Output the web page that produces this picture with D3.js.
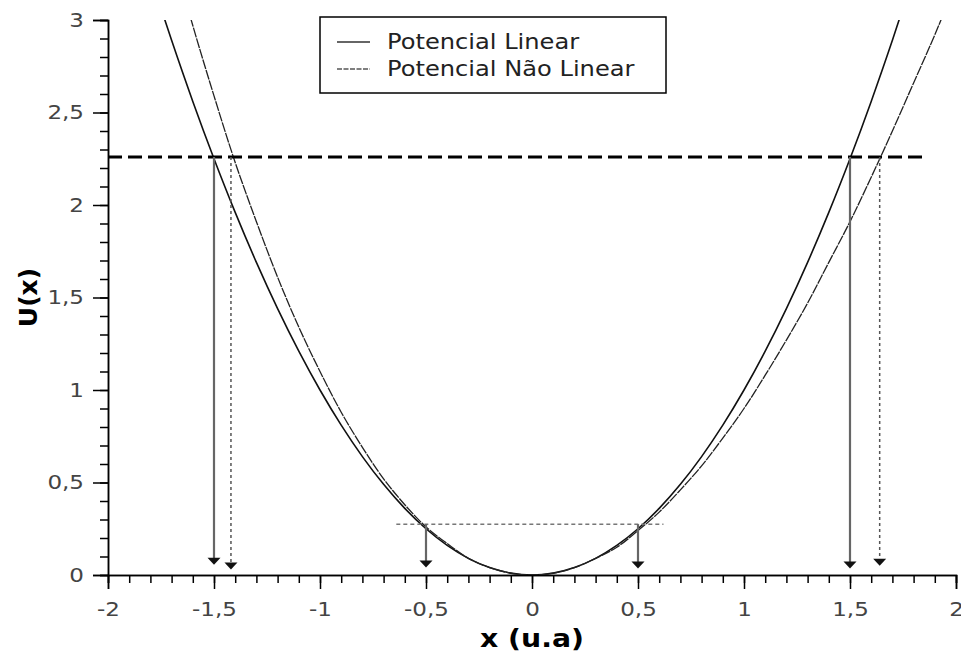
<!DOCTYPE html>
<html>
<head>
<meta charset="utf-8">
<script src="https://cdn.jsdelivr.net/npm/d3@7"></script>
<style>
  body { margin: 0; background: #fff; }
  text { font-family: "DejaVu Sans", sans-serif; }
</style>
</head>
<body>
<script>
// potencial linear e nao linear
var xs = [-1.8,-1.7,-1.6,-1.5,-1.4,-1.3,-1.2,-1.1,-1.0,-0.9,-0.8,-0.7,-0.6,-0.5,-0.4,-0.3,-0.2,-0.1,0,
          0.1,0.2,0.3,0.4,0.5,0.6,0.7,0.8,0.9,1.0,1.1,1.2,1.3,1.4,1.5,1.6,1.7,1.8,1.9,2.0];
var uLinear = [3.24,2.89,2.56,2.25,1.96,1.69,1.44,1.21,1.0,0.81,0.64,0.49,0.36,0.25,0.16,0.09,0.04,0.01,0,
               0.01,0.04,0.09,0.16,0.25,0.36,0.49,0.64,0.81,1.0,1.21,1.44,1.69,1.96,2.25,2.56,2.89,3.24,3.61,4.0];
var uNaoLinear = [3.82,3.38,2.97,2.59,2.23,1.91,1.61,1.34,1.1,0.88,0.69,0.52,0.38,0.26,0.17,0.09,0.04,0.01,0,
                  0.01,0.04,0.09,0.15,0.24,0.34,0.46,0.59,0.74,0.9,1.08,1.27,1.47,1.69,1.91,2.15,2.40,2.66,2.92,3.2];

// niveis de energia
var levelE = [2.26, 0.275];
var levelFrom = [-2, -0.64];
var levelTo = [1.85, 0.62];

// setas: posicao, energia de partida, ponta
var arrowX = [-1.5, -1.42, -0.5, 0.5, 1.5, 1.64];
var arrowFrom = [2.26, 2.26, 0.275, 0.275, 2.26, 2.26];
var arrowTip = [0.055, 0.03, 0.04, 0.035, 0.035, 0.05];
var arrowDotted = [false, true, false, false, false, true];

var xTicks = [-2,-1.5,-1,-0.5,0,0.5,1,1.5,2];
var yTicks = [0,0.5,1,1.5,2,2.5,3];
var legendNames = ["Potencial Linear", "Potencial Não Linear"];

var width = 961, height = 652;
var margin = {top: 20, right: 5, bottom: 77, left: 108};
var stretch = 1.15; // o texto original e mais largo

var svg = d3.select("body").append("svg")
    .attr("width", width)
    .attr("height", height);

var x = d3.scaleLinear().domain([-2, 2]).range([margin.left, width - margin.right]);
var y = d3.scaleLinear().domain([0, 3]).range([height - margin.bottom, margin.top]);

function fmt(d) { return String(d).replace(".", ","); }

svg.append("clipPath").attr("id", "plot")
  .append("rect")
    .attr("x", margin.left).attr("y", margin.top)
    .attr("width", x(2) - margin.left).attr("height", y(0) - margin.top);

// eixos - ticks menores
svg.append("g")
    .attr("transform", "translate(0," + y(0) + ")")
    .call(d3.axisBottom(x).tickValues(d3.range(-20, 21).map(function(d) { return d / 10; }))
      .tickSize(8).tickFormat(""));
svg.append("g")
    .attr("transform", "translate(" + x(-2) + ",0)")
    .call(d3.axisLeft(y).tickValues(d3.range(0, 31).map(function(d) { return d / 10; }))
      .tickSize(8).tickFormat(""));

var xAxis = svg.append("g")
    .attr("transform", "translate(0," + y(0) + ")")
    .call(d3.axisBottom(x).tickValues(xTicks).tickSize(14).tickPadding(13).tickFormat(fmt));
var yAxis = svg.append("g")
    .attr("transform", "translate(" + x(-2) + ",0)")
    .call(d3.axisLeft(y).tickValues(yTicks).tickSize(15).tickPadding(9).tickFormat(fmt));

svg.selectAll(".domain").attr("stroke", "#000").attr("stroke-width", 1.5);
svg.selectAll(".tick line").attr("stroke", "#000").attr("stroke-width", 1.5);
svg.selectAll(".tick text")
    .attr("font-family", "DejaVu Sans")
    .attr("font-size", 20)
    .attr("fill", "#444")
    .attr("transform", "scale(" + stretch + ",1)");
yAxis.selectAll(".tick text").attr("x", -24 / stretch);

// curvas
var line = d3.line()
    .x(function(d) { return x(d[0]); })
    .y(function(d) { return y(d[1]); })
    .curve(d3.curveCatmullRom);

var curves = svg.append("g").attr("clip-path", "url(#plot)");
curves.append("path")
    .attr("d", line(xs.map(function(v, i) { return [v, uLinear[i]]; })))
    .attr("fill", "none").attr("stroke", "#111").attr("stroke-width", 1.6);
curves.append("path")
    .attr("d", line(xs.map(function(v, i) { return [v, uNaoLinear[i]]; })))
    .attr("fill", "none").attr("stroke", "#222").attr("stroke-width", 1.3)
    .attr("stroke-dasharray", "10,1");

// niveis de energia
svg.append("line")
    .attr("x1", x(levelFrom[0])).attr("x2", x(levelTo[0]))
    .attr("y1", y(levelE[0])).attr("y2", y(levelE[0]))
    .attr("stroke", "#000").attr("stroke-width", 3).attr("stroke-dasharray", "14,6");
svg.append("line")
    .attr("x1", x(levelFrom[1])).attr("x2", x(levelTo[1]))
    .attr("y1", y(levelE[1])).attr("y2", y(levelE[1]))
    .attr("stroke", "#777").attr("stroke-width", 1.5).attr("stroke-dasharray", "4,3");

// setas
arrowX.forEach(function(ax, i) {
  var tipY = y(arrowTip[i]);
  svg.append("line")
      .attr("x1", x(ax)).attr("x2", x(ax))
      .attr("y1", y(arrowFrom[i])).attr("y2", tipY - 5)
      .attr("stroke", arrowDotted[i] ? "#555" : "#666")
      .attr("stroke-width", arrowDotted[i] ? 1.5 : 2.2)
      .attr("stroke-dasharray", arrowDotted[i] ? "3,3" : null);
  svg.append("path")
      .attr("d", "M" + (x(ax) - 6.5) + "," + (tipY - 7) + "L" + (x(ax) + 6.5) + "," + (tipY - 7) + "L" + x(ax) + "," + tipY + "Z")
      .attr("fill", "#111");
});

// legenda
var legend = svg.append("g");
legend.append("rect")
    .attr("x", 320).attr("y", 17).attr("width", 346).attr("height", 76)
    .attr("fill", "#fff").attr("stroke", "#000").attr("stroke-width", 1.5);
legendNames.forEach(function(name, i) {
  legend.append("line")
      .attr("x1", 337).attr("x2", 370)
      .attr("y1", 42 + i * 27).attr("y2", 42 + i * 27)
      .attr("stroke", i ? "#555" : "#333").attr("stroke-width", 1.5)
      .attr("stroke-dasharray", i ? "5,1.5" : null);
  legend.append("text")
      .attr("transform", "translate(387," + (49 + i * 27) + ") scale(" + stretch + ",1)")
      .attr("font-size", 21).attr("fill", "#222")
      .text(name);
});

// titulos
svg.append("text")
    .attr("transform", "translate(" + x(0) + ",647) scale(" + 1.18 + ",1)")
    .attr("text-anchor", "middle")
    .attr("font-size", 24).attr("font-weight", "bold")
    .text("x (u.a)");
svg.append("text")
    .attr("transform", "translate(37," + y(1.5) + ") rotate(-90)")
    .attr("text-anchor", "middle")
    .attr("font-size", 25).attr("font-weight", "bold")
    .text("U(x)");
</script>
</body>
</html>
